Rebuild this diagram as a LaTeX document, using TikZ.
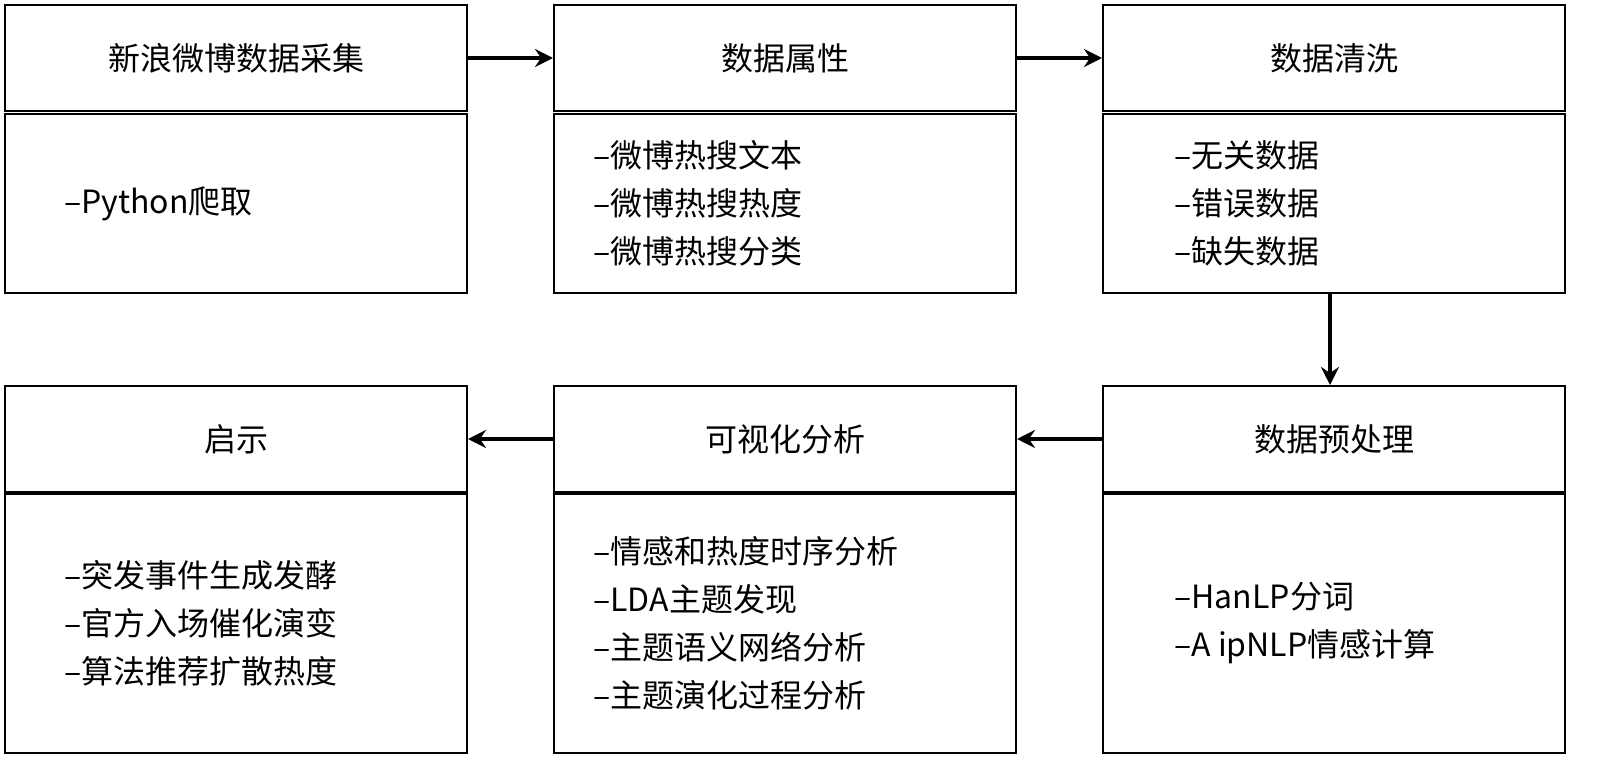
\documentclass[tikz,border=0pt]{standalone}
\usepackage{fontspec}
\newfontfamily\cjk{Noto Sans CJK SC}
\usetikzlibrary{arrows.meta,positioning}

\tikzset{
	head/.style={draw,line width=1pt,minimum width=231pt,minimum height=53pt,anchor=north west,inner sep=0pt,font=\cjk\fontsize{16pt}{24pt}\selectfont},
	body/.style={draw,line width=1pt,minimum width=231pt,anchor=north west,inner sep=0pt},
	list/.style={align=left,anchor=west,inner sep=0pt,font=\cjk\fontsize{16pt}{24pt}\selectfont},
	flow/.style={-{Stealth[length=9pt,width=9pt,inset=3pt]},line width=2pt}
}

\begin{document}
\begin{tikzpicture}[x=0.5pt,y=-0.5pt]
\useasboundingbox (0,0) rectangle (1600,770);
% top row
\node[head] (h1) at (4,4) {新浪微博数据采集};
\node[head] (h2) at (553,4) {数据属性};
\node[head] (h3) at (1102,4) {数据清洗};
\node[body,minimum height=89.5pt] (b1) at (4,113) {};
\node[body,minimum height=89.5pt] (b2) at (553,113) {};
\node[body,minimum height=89.5pt] (b3) at (1102,113) {};
\node[list,right=30pt of b1.west] (t1) {–Python爬取};
\node[list,right=20pt of b2.west] (t2) {–微博热搜文本\\–微博热搜热度\\–微博热搜分类};
\node[list,right=36pt of b3.west] (t3) {–无关数据\\–错误数据\\–缺失数据};
% bottom row
\node[head] (h4) at (4,385) {启示};
\node[head] (h5) at (553,385) {可视化分析};
\node[head] (h6) at (1102,385) {数据预处理};
\node[body,minimum height=129.5pt] (b4) at (4,493) {};
\node[body,minimum height=129.5pt] (b5) at (553,493) {};
\node[body,minimum height=129.5pt] (b6) at (1102,493) {};
\node[list,right=30pt of b4.west] (t4) {–突发事件生成发酵\\–官方入场催化演变\\–算法推荐扩散热度};
\node[list,right=20pt of b5.west] (t5) {–情感和热度时序分析\\–LDA主题发现\\–主题语义网络分析\\–主题演化过程分析};
\node[list,right=36pt of b6.west] (t6) {–HanLP分词\\–A ipNLP情感计算};
% arrows
\draw[flow] (h1) -- (h2);
\draw[flow] (h2) -- (h3);
\draw[flow] (b3.south -| 1330,0) -- (h6.north -| 1330,0);
\draw[flow] (h6) -- (h5);
\draw[flow] (h5) -- (h4);
\end{tikzpicture}
\end{document}
